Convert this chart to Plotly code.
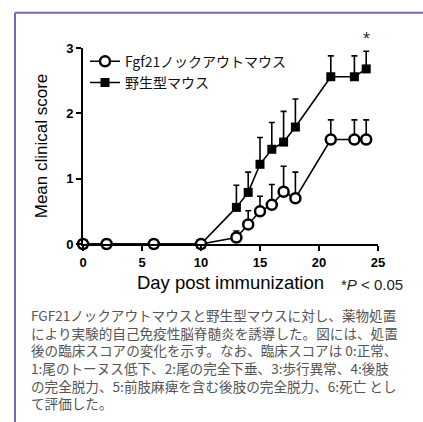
import plotly.graph_objects as go

days = [0, 2, 6, 10, 13, 14, 15, 16, 17, 18, 21, 23, 24]
ko_mean = [0, 0, 0, 0, 0.1, 0.3, 0.5, 0.6, 0.8, 0.7, 1.6, 1.6, 1.6]
ko_sem = [0, 0, 0, 0, 0.1, 0.21, 0.23, 0.31, 0.39, 0.4, 0.3, 0.3, 0.3]
wt_mean = [0, 0, 0, 0, 0.56, 0.79, 1.22, 1.45, 1.56, 1.79, 2.56, 2.56, 2.68]
wt_sem = [0, 0, 0, 0, 0.34, 0.31, 0.41, 0.41, 0.47, 0.43, 0.32, 0.32, 0.27]
x_ticks = [0, 5, 10, 15, 20, 25]
y_ticks = [0, 1, 2, 3]
ko_name = "Fgf21ノックアウトマウス"
wt_name = "野生型マウス"
caption_lines = [
    "FGF21ノックアウトマウスと野生型マウスに対し、薬物処置",
    "により実験的自己免疫性脳脊髄炎を誘導した。図には、処置",
    "後の臨床スコアの変化を示す。なお、臨床スコアは 0:正常、",
    "1:尾のトーヌス低下、2:尾の完全下垂、3:歩行異常、4:後肢",
    "の完全脱力、5:前肢麻痺を含む後肢の完全脱力、6:死亡 とし",
    "て評価した。",
]

W, H = 423, 422
L, R, T, B = 83, 378, 48.3, 244.3


def px(xp):
    return (xp - L) / (R - L)


def py(yp):
    return (B - yp) / (B - T)


fig = go.Figure()
fig.add_trace(go.Scatter(
    x=days, y=wt_mean, name=wt_name, mode="lines+markers",
    line=dict(color="black", width=1.6),
    marker=dict(symbol="square", size=9, color="black"),
    error_y=dict(type="data", array=wt_sem, arrayminus=[0] * len(wt_sem),
                 symmetric=False, color="black", thickness=1.6, width=3),
    cliponaxis=False, legendrank=2,
))
fig.add_trace(go.Scatter(
    x=days, y=ko_mean, name=ko_name, mode="lines+markers",
    line=dict(color="black", width=1.6),
    marker=dict(symbol="circle", size=10, color="white",
                line=dict(color="black", width=2.5)),
    error_y=dict(type="data", array=ko_sem, arrayminus=[0] * len(ko_sem),
                 symmetric=False, color="black", thickness=1.6, width=3),
    cliponaxis=False, legendrank=1,
))

axis_font = dict(family="Arial, Liberation Sans", size=13, color="black", weight="bold")
fig.update_xaxes(range=[0, 25], tickvals=x_ticks, showgrid=False, zeroline=False,
                 showline=True, linecolor="black", linewidth=2,
                 ticks="outside", ticklen=5, tickwidth=2, tickcolor="black",
                 tickfont=axis_font,
                 title=dict(text="Day post immunization", standoff=7,
                            font=dict(family="Arial, Liberation Sans", size=18.5, color="black")))
fig.update_yaxes(range=[0, 3], tickvals=y_ticks, showgrid=False, zeroline=False,
                 showline=True, linecolor="black", linewidth=2,
                 ticks="outside", ticklen=5, tickwidth=2, tickcolor="black",
                 tickfont=axis_font,
                 title=dict(text="Mean clinical score", standoff=14,
                            font=dict(family="Arial, Liberation Sans", size=17, color="black")))

annotations = [
    dict(x=24, y=py(39), xref="x", yref="paper", text="*", showarrow=False,
         yanchor="middle",
         font=dict(family="Arial, Liberation Sans", size=18, color="#333")),
    dict(x=px(405), y=py(285), xref="paper", yref="paper", xanchor="right",
         yanchor="middle", text="*<i>P</i> &lt; 0.05", showarrow=False,
         font=dict(family="Arial, Liberation Sans", size=15, color="#222")),
    dict(x=px(29), y=py(303), xref="paper", yref="paper",
         xanchor="left", yanchor="top", align="left",
         text="<br>".join(caption_lines), showarrow=False,
         font=dict(family="Noto Sans CJK JP", size=13.6, color="#555")),
]

shapes = [
    dict(type="line", xref="paper", yref="paper", x0=px(15), x1=px(15),
         y0=py(13), y1=py(430), line=dict(color="#7468c4", width=2)),
    dict(type="line", xref="paper", yref="paper", x0=px(15), x1=px(430),
         y0=py(13), y1=py(13), line=dict(color="#7468c4", width=2)),
]

fig.update_layout(
    width=W, height=H,
    margin=dict(l=L, r=W - R, t=T, b=H - B),
    paper_bgcolor="white", plot_bgcolor="white",
    annotations=annotations, shapes=shapes,
    legend=dict(x=px(85), y=py(46), xanchor="left", yanchor="top",
                bgcolor="rgba(0,0,0,0)", itemwidth=30, tracegroupgap=0,
                font=dict(family="Noto Sans CJK JP", size=14, color="#111")),
    showlegend=True,
)

fig.write_html("out.html", config={"displayModeBar": False},
               post_script="document.body.style.margin='0';")
